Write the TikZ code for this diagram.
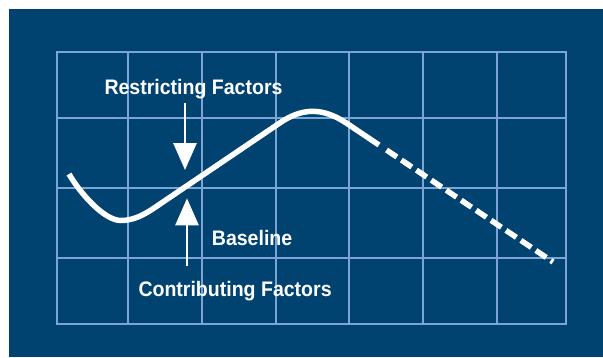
\documentclass[tikz,border=0pt]{standalone}
\usepackage{fontspec}
\setmainfont{Liberation Sans}[FakeStretch=0.93]
\usetikzlibrary{arrows.meta}
\definecolor{bgblue}{HTML}{004370}
\definecolor{gridblue}{HTML}{7DA4D6}
\begin{document}
\begin{tikzpicture}[x=1bp,y=-1bp,
  gridline/.style={draw=gridblue,line width=2bp},
  curve/.style={draw=white,line width=5.5bp},
  lbl/.style={text=white,font=\bfseries\fontsize{21bp}{24bp}\selectfont,inner sep=0pt,anchor=base west},
  bigarrow/.style={draw=white,line width=2.8bp,-{Triangle[width=23bp,length=27bp]}}]
\useasboundingbox (0,0) rectangle (603,357);
\fill[white] (0,0) rectangle (603,357);
\fill[bgblue] (8.7,9.3) rectangle (603,357);
% grid
\foreach \x in {128.3,201.7,275.7,349.3,422.7,496.5}
  \draw[gridline] (\x,51.7) -- (\x,324.3);
\foreach \y in {117.7,187.7,258.3}
  \draw[gridline] (56.7,\y) -- (565.7,\y);
\draw[gridline] (56.7,51.7) rectangle (565.7,324.3);
% curve
\draw[curve] (69,174) .. controls (80,193) and (104,220.5) .. (121,220.5)
  .. controls (134,220.5) and (145,214.2) .. (155,207.4) -- (280,122.8)
  .. controls (303,107.3) and (323.1,107.5) .. (347,123.5) -- (379,145);
\draw[curve,dash pattern=on 12.5bp off 5.5bp] (386.5,150) -- (553,262);
% arrows
\coordinate (rs) at (185,103.3);
\coordinate (rt) at (185,170);
\coordinate (cs) at (187,265.7);
\coordinate (ct) at (187,198.3);
\draw[bigarrow] (rs) -- (rt);
\draw[bigarrow] (cs) -- (ct);
% labels
\node[lbl] (restr) at (104.3,94.3) {Restricting Factors};
\node[lbl] (base) at (211.7,245) {Baseline};
\node[lbl] (contr) at (138.3,296.7) {Contributing Factors};
\end{tikzpicture}
\end{document}
